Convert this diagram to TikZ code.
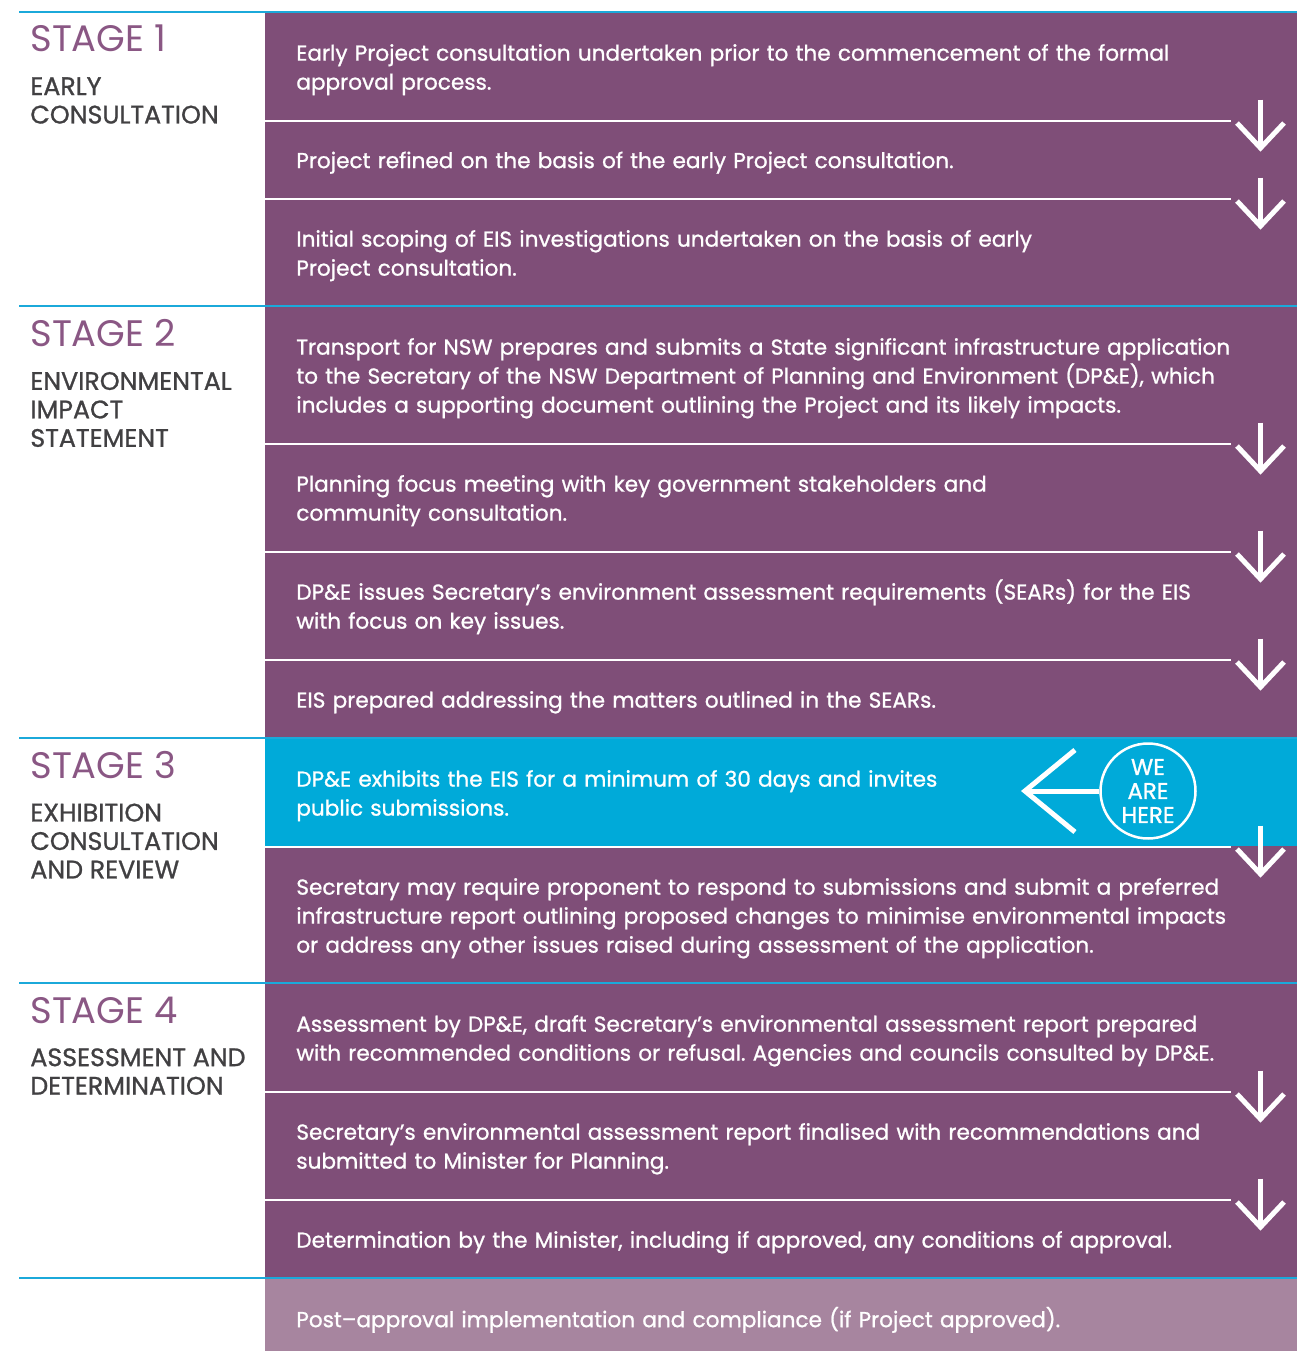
\documentclass[tikz,border=0pt]{standalone}
\usepackage{fontspec}
\setmainfont{Poppins}
\newfontfamily\medfont{Poppins}[FakeBold=1.0]
\usetikzlibrary{arrows.meta,calc}
\definecolor{plum}{HTML}{7F4E78}
\definecolor{herecol}{HTML}{00AAD9}
\definecolor{lightplum}{HTML}{A7859F}
\definecolor{rulecol}{HTML}{1BA9DA}
\definecolor{stagecol}{HTML}{8A5784}
\definecolor{subcol}{HTML}{414042}
\newcommand\bodyfont{\medfont\fontsize{12.3}{16.5}\selectfont\frenchspacing}
\newcommand\subfont{\medfont\fontsize{14.4}{16.2}\selectfont}
\newcommand\titlefont{\fontsize{21}{24}\selectfont}
\newcommand\herefont{\medfont\fontsize{13}{13.66}\selectfont}
\frenchspacing
\begin{document}
\begin{tikzpicture}[x=0.02cm,y=-0.02cm,
  rowbox/.style={rectangle, anchor=north west, inner ysep=0pt, inner xsep=0.62cm,
    minimum width=20.64cm, text width=19.4cm, align=left, text=white, font=\bodyfont,
    execute at begin node={\rule{0pt}{13.5pt}},
    execute at end node={\rule[-3.5pt]{0pt}{3.5pt}}},
  stagetitle/.style={anchor=west, inner sep=0pt, text=stagecol, font=\titlefont},
  stagesub/.style={anchor=west, inner sep=0pt, text=subcol, font=\subfont, align=left},
  sepline/.style={white, line width=0.045cm},
  stagerule/.style={rulecol, line width=0.05cm},
  downarr/.style={white, line width=0.1cm, -{Straight Barb[length=0.5cm,width=0.94cm]}},
  leftarr/.style={white, line width=0.1cm, -{Straight Barb[length=1.0cm,width=1.64cm]}}
]
\useasboundingbox (0,0) rectangle (1297,1351);

% rows
\node[rowbox, fill=plum, minimum height=2.16cm] (r1) at (265,12)
  {Early Project consultation undertaken prior to the commencement of the formal\\approval process.};
\node[rowbox, fill=plum, minimum height=1.56cm] (r2) at (265,120)
  {Project refined on the basis of the early Project consultation.};
\node[rowbox, fill=plum, minimum height=2.16cm] (r3) at (265,198)
  {Initial scoping of EIS investigations undertaken on the basis of early\\Project consultation.};
\node[rowbox, fill=plum, minimum height=2.74cm] (r4) at (265,306)
  {Transport for NSW prepares and submits a State significant infrastructure application\\to the Secretary of the NSW Department of Planning and Environment (DP\&E), which\\includes a supporting document outlining the Project and its likely impacts.};
\node[rowbox, fill=plum, minimum height=2.16cm] (r5) at (265,443)
  {Planning focus meeting with key government stakeholders and\\community consultation.};
\node[rowbox, fill=plum, minimum height=2.16cm] (r6) at (265,551)
  {DP\&E issues Secretary’s environment assessment requirements (SEARs) for the EIS\\with focus on key issues.};
\node[rowbox, fill=plum, minimum height=1.58cm] (r7) at (265,659)
  {EIS prepared addressing the matters outlined in the SEARs.};
\node[rowbox, fill=herecol, minimum height=2.16cm] (r8) at (265,738)
  {DP\&E exhibits the EIS for a minimum of 30 days and invites\\public submissions.};
\node[rowbox, fill=plum, minimum height=2.74cm] (r9) at (265,846)
  {Secretary may require proponent to respond to submissions and submit a preferred\\infrastructure report outlining proposed changes to minimise environmental impacts\\or address any other issues raised during assessment of the application.};
\node[rowbox, fill=plum, minimum height=2.16cm] (r10) at (265,983)
  {Assessment by DP\&E, draft Secretary’s environmental assessment report prepared\\with recommended conditions or refusal. Agencies and councils consulted by DP\&E.};
\node[rowbox, fill=plum, minimum height=2.16cm] (r11) at (265,1091)
  {Secretary’s environmental assessment report finalised with recommendations and\\submitted to Minister for Planning.};
\node[rowbox, fill=plum, minimum height=1.58cm] (r12) at (265,1199)
  {Determination by the Minister, including if approved, any conditions of approval.};
\node[rowbox, fill=lightplum, minimum height=1.46cm,
  execute at begin node={\rule{0pt}{17.5pt}}] (r13) at (265,1278)
  {Post–approval implementation and compliance (if Project approved).};

% white separators within stages
\foreach \r in {r1,r2,r4,r5,r6,r8,r10,r11}
  \draw[sepline] (\r.south west) -- ([xshift=-1.34cm]\r.south east);

% stage rules
\foreach \yy in {12,306,738,983,1278}
  \draw[stagerule] (19,\yy) -- (1297,\yy);

% stage labels
\node[stagetitle] (st1) at (30,38) {STAGE 1};
\node[stagesub] (ss1) at (30,100.5) {EARLY\\CONSULTATION};
\node[stagetitle] (st2) at (30,333) {STAGE 2};
\node[stagesub] (ss2) at (30,409.5) {ENVIRONMENTAL\\IMPACT\\STATEMENT};
\node[stagetitle] (st3) at (30,765) {STAGE 3};
\node[stagesub] (ss3) at (30,841) {EXHIBITION\\CONSULTATION\\AND REVIEW};
\node[stagetitle] (st4) at (30,1010) {STAGE 4};
\node[stagesub] (ss4) at (30,1071.5) {ASSESSMENT AND\\DETERMINATION};

% down arrows between steps
\foreach \r in {r1,r2,r4,r5,r6,r8,r10,r11}
  \draw[downarr] ([xshift=-0.74cm,yshift=0.42cm]\r.south east) -- ([xshift=-0.74cm,yshift=-0.62cm]\r.south east);

% we are here
\node[circle, draw=white, line width=0.05cm, minimum size=1.9cm, inner sep=0pt,
  text=white, align=center, font=\herefont] (here) at (1148,791) {WE\\ARE\\HERE};
\coordinate (heretip) at (1021,791);
\draw[leftarr] (here.west) -- (heretip);
\end{tikzpicture}
\end{document}
